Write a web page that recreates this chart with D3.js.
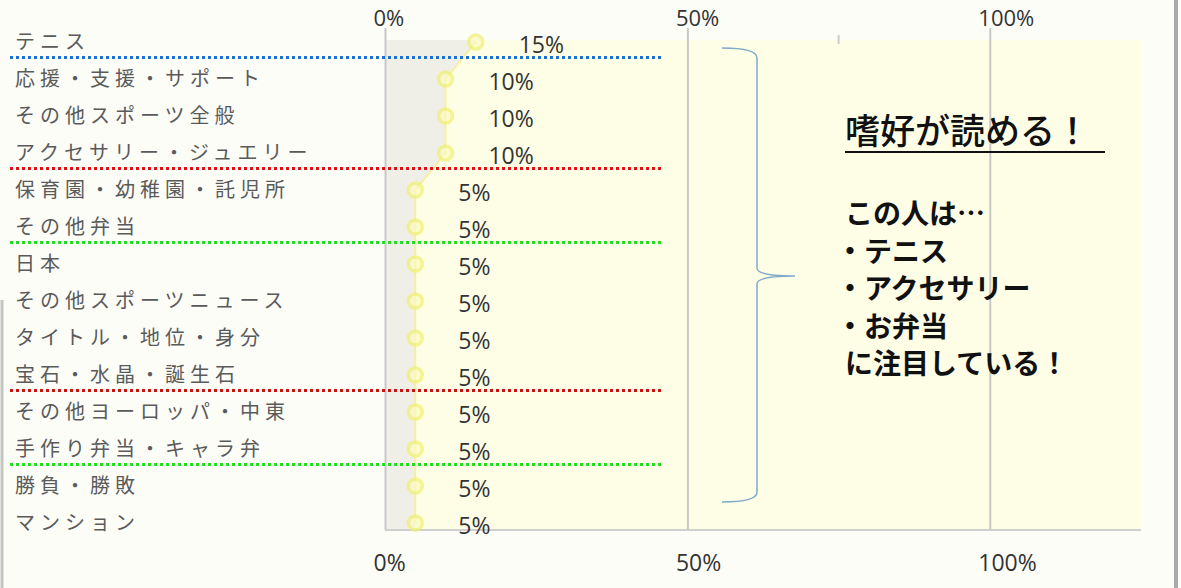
<!DOCTYPE html>
<html>
<head>
<meta charset="utf-8">
<script src="https://cdn.jsdelivr.net/npm/d3@7"></script>
<style>
  body { margin: 0; background: #fdfdf8; }
  svg { display: block; }
</style>
</head>
<body>
<script>
var width = 1181,
    height = 588

// data
var categories = [
  'テニス', '応援・支援・サポート', 'その他スポーツ全般', 'アクセサリー・ジュエリー',
  '保育園・幼稚園・託児所', 'その他弁当', '日本', 'その他スポーツニュース',
  'タイトル・地位・身分', '宝石・水晶・誕生石', 'その他ヨーロッパ・中東',
  '手作り弁当・キャラ弁', '勝負・勝敗', 'マンション'
]
var values = [15, 10, 10, 10, 5, 5, 5, 5, 5, 5, 5, 5, 5, 5]
var tickValues = [0, 50, 100]
var minorTicks = [75]
// dotted separators: drawn below the row with this index
var dividerAfter = [0, 3, 5, 9, 11]
var dividerColors = ['#1c6fd6', '#dd1111', '#22dd22', '#cc1111', '#22dd22']
var noteTitle = '嗜好が読める！'
var noteLines = ['この人は…', '・テニス', '・アクセサリー', '・お弁当', 'に注目している！']

var plotTop = 40, plotBottom = 530

var x = d3.scaleLinear()
    .domain([0, 125])
    .range([385, 1141])

var y = d3.scalePoint()
    .domain(categories)
    .range([42, 523])

var rows = categories.map(function(c, i){ return {c: c, v: values[i], y: y(c)} })

var svg = d3.select('body').append('svg')
    .attr('width', width)
    .attr('height', height)

// page borders
svg.append('rect')
    .attr('x', 1174).attr('y', 0).attr('width', 4).attr('height', height)
    .attr('fill', '#a9a9a9')
svg.append('line')
    .attr('x1', 2).attr('x2', 2).attr('y1', 300).attr('y2', height)
    .attr('stroke', '#c4c4c4').attr('stroke-width', 3)

// plot background
svg.append('rect')
    .attr('x', x(0)).attr('y', plotTop)
    .attr('width', x.range()[1] - x(0)).attr('height', plotBottom - plotTop)
    .attr('fill', '#fefee7')

// grey area left of the line
var areaPts = [{v: values[0], y: plotTop}].concat(rows)
    .concat([{v: values[values.length - 1], y: plotBottom}])

var area = d3.area()
    .x0(x(0))
    .x1(function(d){ return x(d.v) })
    .y(function(d){ return d.y })

svg.append('path')
    .datum(areaPts)
    .attr('d', area)
    .attr('fill', '#efefe8')

// gridlines + bottom axis
var bottomAxis = d3.axisBottom(x)
    .tickValues(tickValues)
    .tickSize(-(plotBottom - 28))
    .tickFormat(function(d){ return d + '%' })

var gB = svg.append('g')
    .attr('transform', 'translate(0,' + plotBottom + ')')
    .call(bottomAxis)

gB.select('.domain').remove()
gB.selectAll('.tick line').attr('stroke', '#c8c8c8').attr('stroke-width', 2)
gB.selectAll('.tick text')
    .attr('y', 41).attr('dy', 0).attr('dx', -12)
    .attr('text-anchor', 'start')
    .attr('fill', '#333')
    .style('font-family', 'Open Sans, sans-serif')
    .style('font-size', '23px')

svg.append('line')
    .attr('x1', x(0)).attr('x2', x.range()[1])
    .attr('y1', plotBottom).attr('y2', plotBottom)
    .attr('stroke', '#cfcfcf').attr('stroke-width', 2)

// top axis labels
var topAxis = d3.axisTop(x)
    .tickValues(tickValues)
    .tickSize(0)
    .tickFormat(function(d){ return d + '%' })

var gT = svg.append('g')
    .attr('transform', 'translate(0,28)')
    .call(topAxis)

gT.select('.domain').remove()
gT.selectAll('.tick text')
    .attr('y', -2).attr('dy', 0).attr('dx', -12)
    .attr('text-anchor', 'start')
    .attr('fill', '#333')
    .style('font-family', 'Open Sans, sans-serif')
    .style('font-size', '22px')

svg.selectAll('line.minor')
  .data(minorTicks).enter().append('line')
    .attr('class', 'minor')
    .attr('x1', x).attr('x2', x)
    .attr('y1', 35).attr('y2', 44)
    .attr('stroke', '#cccccc').attr('stroke-width', 2)

// line through points
var line = d3.line()
    .x(function(d){ return x(d.v) })
    .y(function(d){ return d.y })

svg.append('path')
    .datum(rows)
    .attr('d', line)
    .attr('fill', 'none')
    .attr('stroke', '#f4f0a6')
    .attr('stroke-width', 2)

svg.selectAll('circle.dot')
  .data(rows).enter().append('circle')
    .attr('class', 'dot')
    .attr('cx', function(d){ return x(d.v) })
    .attr('cy', function(d){ return d.y })
    .attr('r', 7)
    .attr('fill', '#fbfbc0')
    .attr('stroke', '#f0f070')
    .attr('stroke-width', 3.5)
    .attr('opacity', 0.7)

// value labels
svg.selectAll('text.val')
  .data(rows).enter().append('text')
    .attr('class', 'val')
    .attr('x', function(d){ return x(d.v) + 43 })
    .attr('y', function(d){ return d.y + 11 })
    .attr('fill', '#333')
    .style('font-family', 'Open Sans, sans-serif')
    .style('font-size', '23px')
    .text(function(d){ return d.v + '%' })

// category labels
svg.selectAll('text.cat')
  .data(rows).enter().append('text')
    .attr('class', 'cat')
    .attr('x', 15)
    .attr('y', function(d){ return d.y + 7 })
    .attr('fill', '#5a5a5a')
    .style('font-family', 'Noto Sans CJK JP, sans-serif')
    .style('font-size', '20px')
    .style('letter-spacing', '5px')
    .text(function(d){ return d.c })

// dotted separators
var step = y.step()
svg.selectAll('line.div')
  .data(dividerAfter).enter().append('line')
    .attr('class', 'div')
    .attr('x1', 10).attr('x2', 662)
    .attr('y1', function(i){ return y(categories[i]) + step / 2 - 3 })
    .attr('y2', function(i){ return y(categories[i]) + step / 2 - 3 })
    .attr('stroke', function(d, i){ return dividerColors[i] })
    .attr('stroke-width', 3)
    .attr('stroke-dasharray', '3,3')

// curly brace
var bTop = 48, bBot = 502, bMid = 276
svg.append('path')
    .attr('d', 'M722,' + bTop + ' Q757,' + bTop + ' 757,' + (bTop + 10) +
               ' L757,' + (bMid - 8) + ' Q757,' + bMid + ' 795,' + bMid +
               ' Q757,' + bMid + ' 757,' + (bMid + 8) +
               ' L757,' + (bBot - 10) + ' Q757,' + bBot + ' 722,' + bBot)
    .attr('fill', 'none')
    .attr('stroke', '#7ea9c9')
    .attr('stroke-width', 1.5)

// note text
svg.append('text')
    .attr('x', 845).attr('y', 144)
    .attr('fill', '#111')
    .style('font-family', 'Noto Sans CJK JP, sans-serif')
    .style('font-size', '35px')
    .style('font-weight', 500)
    .text(noteTitle)

svg.append('line')
    .attr('x1', 845).attr('x2', 1105)
    .attr('y1', 152).attr('y2', 152)
    .attr('stroke', '#111').attr('stroke-width', 2)

svg.selectAll('text.note')
  .data(noteLines).enter().append('text')
    .attr('class', 'note')
    .attr('x', function(d){ return d.charAt(0) == '・' ? 836 : 845 })
    .attr('y', function(d, i){ return 224 + i * 37.5 })
    .attr('fill', '#111')
    .style('font-family', 'Noto Sans CJK JP, sans-serif')
    .style('font-size', '28px')
    .style('font-weight', 700)
    .text(function(d){ return d })
</script>
</body>
</html>
